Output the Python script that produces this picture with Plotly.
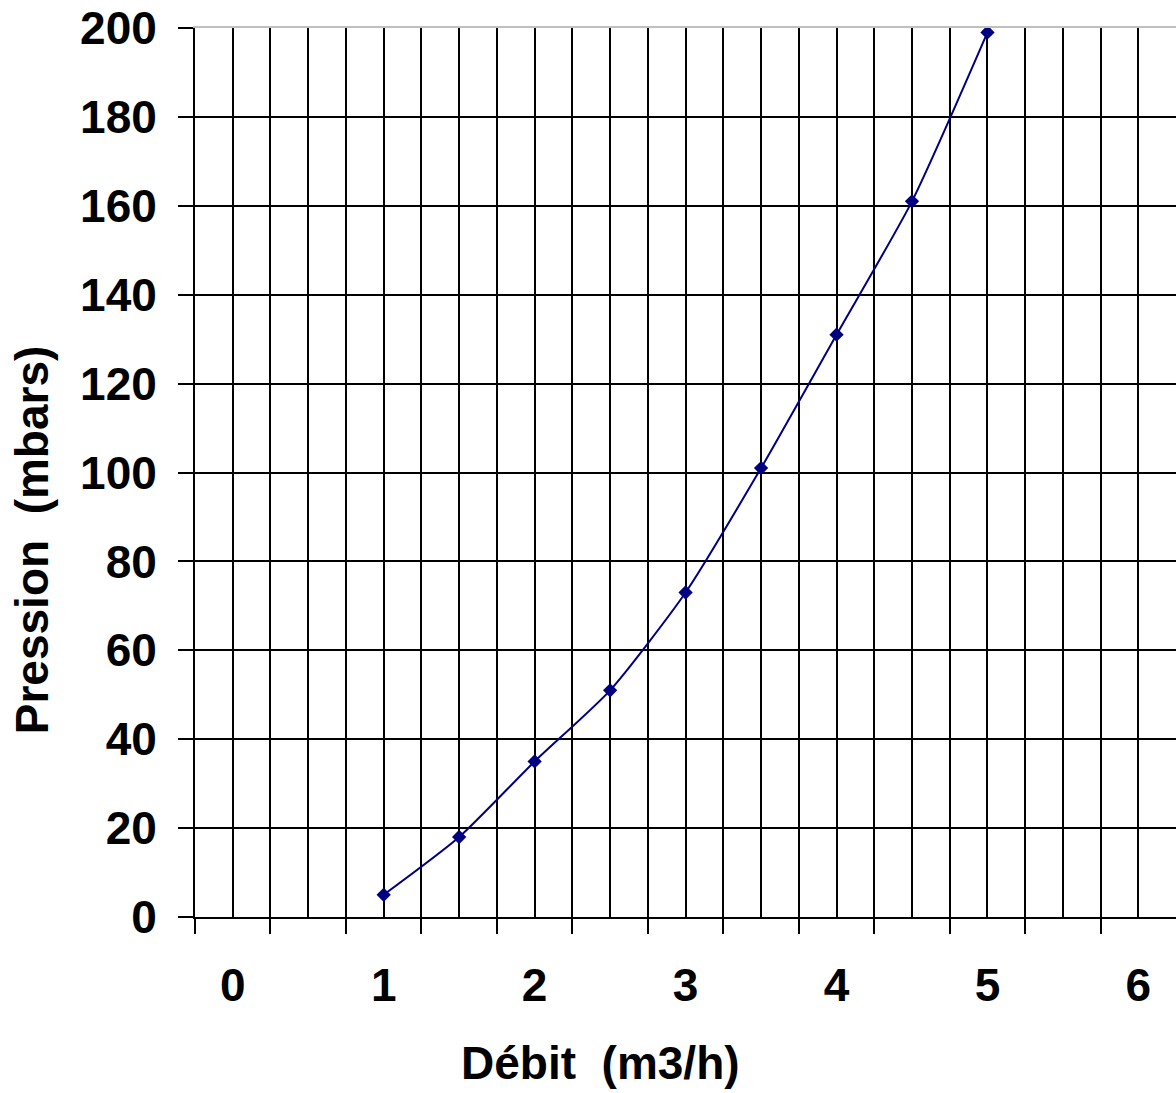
import plotly.graph_objects as go

debit = [1, 1.5, 2, 2.5, 3, 3.5, 4, 4.5, 5]
pression = [5, 18, 35, 51, 73, 101, 131, 161, 199]
x_labels = ["0", "1", "2", "3", "4", "5", "6"]
x_label_vals = [0, 1, 2, 3, 4, 5, 6]

FONT = "Arial, 'Liberation Sans', sans-serif"
NAVY = "#000080"
XR = [-0.25, 6.249]

fig = go.Figure()
fig.add_trace(go.Scatter(
    x=debit, y=pression, mode="lines+markers",
    line=dict(color=NAVY, width=2, shape="spline", smoothing=0.6),
    marker=dict(symbol="diamond", size=11, color=NAVY),
    showlegend=False, hoverinfo="x+y",
))

fig.update_layout(
    width=1176, height=1093,
    margin=dict(l=195, r=0, t=28, b=176),
    paper_bgcolor="white", plot_bgcolor="white",
    font=dict(family=FONT, color="black"),
    xaxis=dict(
        range=XR, tickmode="linear", tick0=-0.25, dtick=0.5,
        ticks="outside", ticklen=15, tickwidth=2, tickcolor="black",
        showticklabels=False, automargin=False,
        showgrid=True, gridcolor="black", gridwidth=2,
        minor=dict(tick0=-0.25, dtick=0.25, showgrid=True, gridcolor="black", gridwidth=2, ticks=""),
        showline=True, linecolor="black", linewidth=2,
        zeroline=False, fixedrange=True,
    ),
    xaxis2=dict(
        overlaying="x", anchor="y", side="bottom", automargin=False,
        range=XR, tickmode="array", tickvals=x_label_vals, ticktext=x_labels,
        ticks="", showgrid=False, showline=False, zeroline=False,
        tickfont=dict(size=46, family=FONT, color="black", weight="bold"),
        ticklabelstandoff=37,
    ),
    xaxis3=dict(
        overlaying="x", anchor="y", side="top", automargin=False,
        range=XR, showticklabels=False, ticks="", showgrid=False,
        showline=True, linecolor="#c0c0c0", linewidth=2, zeroline=False,
    ),
    yaxis=dict(
        range=[0, 200], tickmode="linear", tick0=0, dtick=20,
        ticks="outside", ticklen=15, tickwidth=2, tickcolor="black",
        tickfont=dict(size=46, family=FONT, color="black", weight="bold"),
        ticklabelstandoff=12, automargin=False,
        showgrid=True, gridcolor="black", gridwidth=2,
        showline=True, linecolor="black", linewidth=2,
        zeroline=False, fixedrange=True,
    ),
    annotations=[
        dict(text="<b>Débit  (m3/h)</b>", xref="paper", yref="paper",
             x=0.413, y=-0.164, xanchor="center", yanchor="middle", showarrow=False,
             font=dict(size=46, family=FONT, color="black")),
        dict(text="<b>Pression  (mbars)</b>", xref="paper", yref="paper",
             x=-0.166, y=0.424, xanchor="center", yanchor="middle", showarrow=False,
             textangle=-90, font=dict(size=46, family=FONT, color="black")),
    ],
)

# invisible helper traces so overlay axes are drawn
fig.add_trace(go.Scatter(x=[None], y=[None], xaxis="x2", showlegend=False, hoverinfo="skip"))
fig.add_trace(go.Scatter(x=[None], y=[None], xaxis="x3", showlegend=False, hoverinfo="skip"))

fig.write_html("out.html", config={"displayModeBar": False},
               post_script="document.body.style.margin='0';document.body.style.overflow='hidden';")
